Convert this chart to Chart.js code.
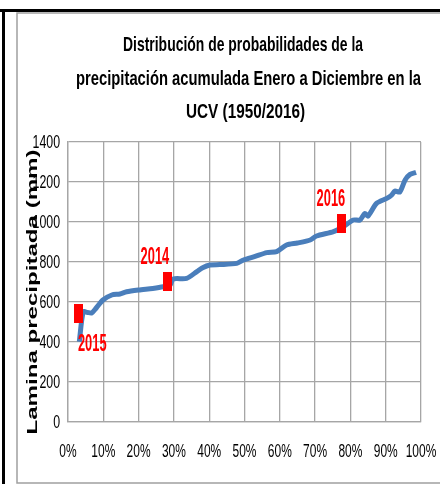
<!DOCTYPE html>
<html>
<head>
<meta charset="utf-8">
<script src="https://cdn.jsdelivr.net/npm/chart.js@4.4.0/dist/chart.umd.min.js"></script>
<style>
  html, body { margin: 0; padding: 0; background: #fff; }
  #wrap { width: 440px; height: 484px; position: relative; }
</style>
</head>
<body>
<div id="wrap"><canvas id="c" width="440" height="484"></canvas></div>
<script>
// probabilidad (%) vs lamina (mm)
const probPct = [3.2, 4.3, 5.5, 6.7, 8.0, 9.9, 12.4, 14.7, 16.6, 20, 24, 27, 28.9, 29.8, 33.6, 36.5, 38, 40.2, 43, 47.8, 49.7, 53, 56.3, 59.1, 61.9, 65, 68.6, 70.4, 75.2, 78, 80.8, 82.7, 84.1, 85, 87.4, 90.3, 91.7, 92.6, 94, 95.5, 96.9, 98.6];
const laminaMm = [401, 551, 548, 545, 570, 610, 635, 640, 651, 660, 668, 676, 685, 715, 718, 752, 770, 785, 787, 793, 810, 828, 847, 852, 885, 895, 910, 930, 952, 977, 1010, 1010, 1043, 1030, 1093, 1118, 1135, 1155, 1150, 1210, 1238, 1248];

// años marcados
const markYears = ["2015", "2014", "2016"];
const markPct = [2.9, 28.3, 77.6];
const markMm = [541, 704, 993];
const markLabelOffset = [[14, 31], [-13, -24], [-11, -24]];

const titleLines = [
  "Distribución de probabilidades de la",
  "precipitación acumulada Enero a Diciembre en la",
  "UCV (1950/2016)"
];
const yTitle = "Lamina precipitada (mm)";

const SANS = "'Liberation Sans', Arial, sans-serif";

// marcador rectangular rojo
const markImg = document.createElement("canvas");
markImg.width = 9; markImg.height = 19;
(function () {
  const g = markImg.getContext("2d");
  g.fillStyle = "#ff0000";
  g.fillRect(0, 0, 9, 19);
})();

// texto "angosto": se comprime en x
function narrowText(ctx, txt, x, y, sx, align) {
  const w = ctx.measureText(txt).width * sx;
  let left = x;
  if (align === "center") left = x - w / 2;
  else if (align === "right") left = x - w;
  ctx.save();
  ctx.translate(left, y);
  ctx.scale(sx, 1);
  ctx.textAlign = "left";
  ctx.fillText(txt, 0, 0);
  ctx.restore();
}

const decor = {
  id: "decor",
  beforeDraw(chart) {
    const ctx = chart.ctx;
    ctx.save();
    ctx.fillStyle = "#fff";
    ctx.fillRect(0, 0, chart.width, chart.height);
    // marco exterior negro
    ctx.fillStyle = "#000";
    ctx.fillRect(0, 9, 440, 3);
    ctx.fillRect(2, 9, 3, 475);
    // marco interior gris
    ctx.strokeStyle = "#a0a0a0";
    ctx.lineWidth = 1.5;
    ctx.beginPath();
    ctx.moveTo(441, 13); ctx.lineTo(17, 13); ctx.lineTo(17, 483); ctx.lineTo(441, 483);
    ctx.stroke();
    ctx.restore();
  },
  afterDraw(chart) {
    const ctx = chart.ctx;
    const xs = chart.scales.x, ys = chart.scales.y;
    ctx.save();
    ctx.fillStyle = "#000";
    ctx.textBaseline = "alphabetic";

    // titulo
    ctx.font = "bold 21px " + SANS;
    const base = [51, 84.5, 118];
    const tw = [240, 345, 119];
    const tcx = [243, 248.5, 245.5];
    titleLines.forEach((t, i) => {
      const sx = tw[i] / ctx.measureText(t).width;
      narrowText(ctx, t, tcx[i], base[i], sx, "center");
    });

    // titulo eje y (estirado a lo largo)
    ctx.save();
    ctx.translate(37, 292);
    ctx.rotate(-Math.PI / 2);
    ctx.font = "bold 14px " + SANS;
    const ysx = 285 / ctx.measureText(yTitle).width;
    narrowText(ctx, yTitle, 0, 0, ysx, "center");
    ctx.restore();

    // etiquetas de ejes
    ctx.font = "19px " + SANS;
    ctx.textBaseline = "middle";
    ys.ticks.forEach((t) => {
      narrowText(ctx, String(t.value), 60, ys.getPixelForValue(t.value) + 1, 0.65, "right");
    });
    xs.ticks.forEach((t) => {
      narrowText(ctx, t.value + "%", xs.getPixelForValue(t.value), 452, 0.63, "center");
    });

    // etiquetas de años
    ctx.fillStyle = "#ff0000";
    ctx.font = "bold 23px " + SANS;
    markYears.forEach((yr, i) => {
      const px = xs.getPixelForValue(markPct[i]) + markLabelOffset[i][0];
      const py = ys.getPixelForValue(markMm[i]) + markLabelOffset[i][1];
      narrowText(ctx, yr, px, py, 0.56, "center");
    });
    ctx.restore();
  }
};

new Chart(document.getElementById("c"), {
  type: "scatter",
  data: {
    datasets: [
      {
        label: "Lamina",
        data: probPct.map((p, i) => ({ x: p, y: laminaMm[i] })),
        showLine: true,
        borderColor: "#4a7ebb",
        borderWidth: 5,
        tension: 0.25,
        pointRadius: 0,
        order: 2
      },
      {
        label: "Años",
        data: markPct.map((p, i) => ({ x: p, y: markMm[i] })),
        showLine: false,
        pointStyle: markImg,
        pointRadius: 5,
        order: 1
      }
    ]
  },
  options: {
    responsive: false,
    animation: false,
    layout: { padding: { top: 142, left: 17, right: 19, bottom: 0 } },
    plugins: { legend: { display: false }, tooltip: { enabled: false }, title: { display: false } },
    scales: {
      x: {
        type: "linear", min: 0, max: 100,
        afterFit: (s) => { s.height = 62; },
        grid: { color: "#a6a6a6", lineWidth: 1.3, drawTicks: false },
        border: { color: "#a6a6a6", width: 1.3 },
        ticks: { stepSize: 10, display: false }
      },
      y: {
        min: 0, max: 1400,
        afterFit: (s) => { s.width = 51; },
        grid: { color: "#a6a6a6", lineWidth: 1.3, drawTicks: false },
        border: { color: "#a6a6a6", width: 1.3 },
        ticks: { stepSize: 200, display: false }
      }
    }
  },
  plugins: [decor]
});
</script>
</body>
</html>
